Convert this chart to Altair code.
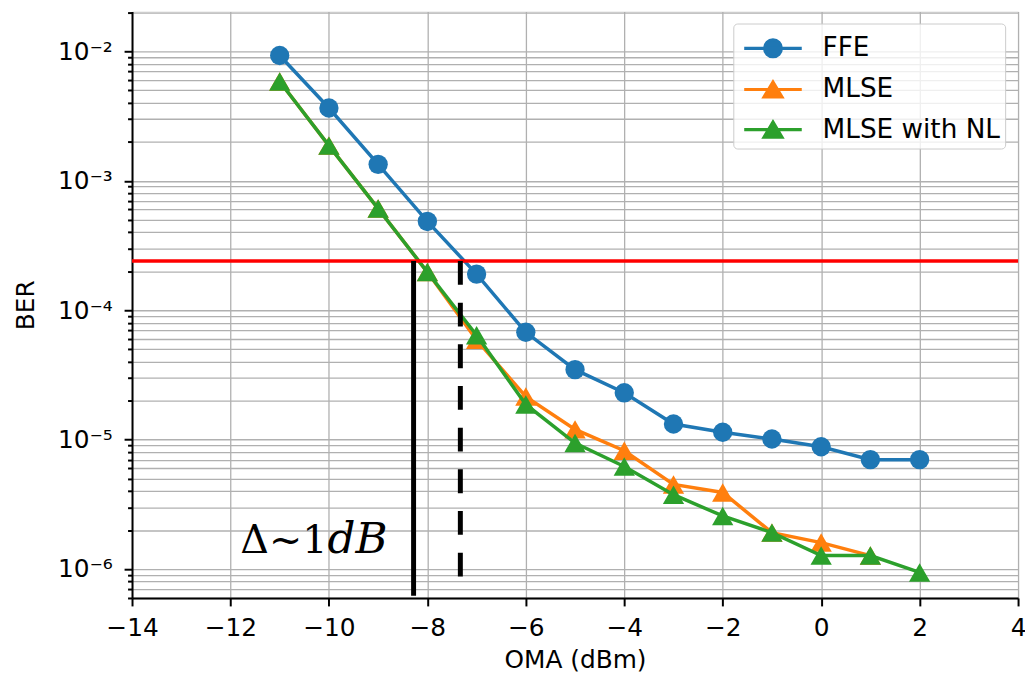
import altair as alt
import pandas as pd

series_names = ["FFE", "MLSE", "MLSE with NL"]
series_colors = ["#1f77b4", "#ff7f0e", "#2ca02c"]

oma_ffe = [-11, -10, -9, -8, -7, -6, -5, -4, -3, -2, -1, 0, 1, 2]
ber_ffe = [9.3e-3, 3.65e-3, 1.34e-3, 4.85e-4, 1.9e-4, 6.75e-5, 3.47e-5,
           2.3e-5, 1.32e-5, 1.14e-5, 1.01e-5, 8.8e-6, 7.0e-6, 7.0e-6]

oma_mlse = [-11, -10, -9, -8, -7, -6, -5, -4, -3, -2, -1, 0, 1]
ber_mlse = [5.85e-3, 1.87e-3, 6.1e-4, 1.97e-4, 5.9e-5, 2.15e-5, 1.2e-5,
            8.2e-6, 4.5e-6, 3.9e-6, 1.91e-6, 1.6e-6, 1.27e-6]

oma_nl = [-11, -10, -9, -8, -7, -6, -5, -4, -3, -2, -1, 0, 1, 2]
ber_nl = [5.85e-3, 1.87e-3, 6.1e-4, 1.97e-4, 6.4e-5, 1.87e-5, 9.4e-6,
          6.2e-6, 3.75e-6, 2.57e-6, 1.91e-6, 1.27e-6, 1.27e-6, 9.4e-7]

x_tick_values = [-14, -12, -10, -8, -6, -4, -2, 0, 2, 4]
x_domain = [-14, 4]
y_domain = [5.97e-7, 2.03e-2]

fec_threshold = [2.4e-4]
solid_x = [-8.28]
solid_y_end = [6.2e-7]
dashed_x = [-7.33]
dashed_y_end = [8.2e-7]
note_main = "Δ~1"
note_unit = "dB"
note_main_x = [-11.8]
note_unit_x = [-10.03]
note_y = [1.32e-6]

# log grid / tick values
y_tick_values = []
for e in range(-7, -1):
    for m in range(1, 10):
        v = float(f"{m}e{e}")
        if y_domain[0] <= v <= y_domain[1]:
            y_tick_values.append(v)

rows = []
for name, xs, ys in zip(series_names, [oma_ffe, oma_mlse, oma_nl], [ber_ffe, ber_mlse, ber_nl]):
    for xv, yv in zip(xs, ys):
        rows.append({"series": name, "oma": xv, "ber": yv})
df = pd.DataFrame(rows)

FONT = "DejaVu Sans"
is_decade = "abs(log(datum.value)/LN10 - round(log(datum.value)/LN10)) < 1e-6"

x_scale = alt.Scale(domain=x_domain, nice=False, zero=False)
y_scale = alt.Scale(type="log", domain=y_domain, nice=False)
color_scale = alt.Scale(domain=series_names, range=series_colors)

x_axis = alt.Axis(
    values=x_tick_values, format="d", title="OMA (dBm)",
    labelFont=FONT, labelFontSize=25, labelColor="black", labelPadding=10,
    titleFont=FONT, titleFontSize=25, titleFontWeight="normal", titleColor="black",
    titleY=70, titleBaseline="alphabetic",
    tickColor="black", tickWidth=2, tickSize=8,
    domainColor="black", domainWidth=2,
    grid=True, gridColor="#b0b0b0", gridWidth=1.3,
    labelFlush=False, labelOverlap=False,
)
y_axis = alt.Axis(
    values=y_tick_values, title="BER",
    labelExpr=f"{is_decade} ? '10' + ['⁻⁷','⁻⁶','⁻⁵','⁻⁴','⁻³','⁻²','⁻¹'][round(log(datum.value)/LN10)+7] : ''",
    labelFont=FONT, labelFontSize=25, labelColor="black", labelPadding=12,
    titleFont=FONT, titleFontSize=25, titleFontWeight="normal", titleColor="black",
    titleX=-107, titleBaseline="middle",
    tickColor="black", tickWidth=2,
    tickSize={"condition": {"test": is_decade, "value": 8}, "value": 4.5},
    domainColor="black", domainWidth=2,
    grid=True, gridColor="#b0b0b0", gridWidth=1.3,
    labelFlush=False, labelOverlap=False,
)

X = alt.X("oma:Q", scale=x_scale, axis=x_axis)
Y = alt.Y("ber:Q", scale=y_scale, axis=y_axis)

legend_paths = [
    "M-1.611,0L1.611,0M0.472,0A0.472,0.472,0,1,1,-0.472,0A0.472,0.472,0,1,1,0.472,0Z",
    "M-1.611,0L1.611,0M0,-0.42L0.5,0.42L-0.5,0.42Z",
    "M-1.611,0L1.611,0M0,-0.42L0.5,0.42L-0.5,0.42Z",
]
leg = alt.Legend(
    title=None, orient="none", legendX=606, legendY=12,
    symbolSize=1296, symbolStrokeWidth=3.2, symbolOpacity=1,
    labelFont=FONT, labelFontSize=26.5, labelColor="black", labelLimit=400,
    fillColor="rgba(255,255,255,0.8)", strokeColor="#cccccc", cornerRadius=4,
    padding=5, rowPadding=6.5, labelOffset=30, symbolOffset=15,
)
COLOR = alt.Color("series:N", scale=color_scale, legend=leg)

base = alt.Chart(df)

# legend driver layer (draws no marks)
layers = [base.transform_filter("false").mark_point(filled=True, opacity=1).encode(
    x=X, y=Y,
    color=COLOR,
    stroke=alt.Stroke("series:N", scale=color_scale, legend=leg),
    shape=alt.Shape("series:N", scale=alt.Scale(domain=series_names, range=legend_paths), legend=leg),
)]

for name in series_names:
    shape = "circle" if name == "FFE" else "triangle-up"
    size = 380 if name == "FFE" else 460
    sub = base.transform_filter(alt.datum.series == name)
    layers.append(sub.mark_line(strokeWidth=3.5).encode(x=X, y=Y, color=COLOR))
    layers.append(sub.mark_point(shape=shape, size=size, filled=True, opacity=1).encode(
        x=X, y=Y, color=COLOR))

red = alt.Chart(pd.DataFrame({"ber": fec_threshold})).mark_rule(
    color="#ff0000", strokeWidth=3.5).encode(y=Y)
solid = alt.Chart(pd.DataFrame({"oma": solid_x, "ber": fec_threshold, "ber2": solid_y_end})).mark_rule(
    color="black", strokeWidth=5).encode(x=X, y=Y, y2="ber2:Q")
dashed = alt.Chart(pd.DataFrame({"oma": dashed_x, "ber": fec_threshold, "ber2": dashed_y_end})).mark_rule(
    color="black", strokeWidth=5, strokeDash=[24, 18]).encode(x=X, y=Y, y2="ber2:Q")
t1 = alt.Chart(pd.DataFrame({"oma": note_main_x, "ber": note_y, "t": [note_main]})).mark_text(
    font="DejaVu Serif", fontSize=40, align="left", baseline="alphabetic", color="black").encode(
    x=X, y=Y, text="t:N")
t2 = alt.Chart(pd.DataFrame({"oma": note_unit_x, "ber": note_y, "t": [note_unit]})).mark_text(
    font="DejaVu Serif", fontSize=44, fontStyle="italic", align="left", baseline="alphabetic",
    color="black").encode(x=X, y=Y, text="t:N")

chart = alt.layer(*layers, red, solid, dashed, t1, t2).properties(
    width=893, height=591,
    autosize=alt.AutoSizeParams(type="none"),
    padding={"left": 125, "top": 1, "right": 7, "bottom": 76},
).configure_view(stroke="black", strokeWidth=2).configure(background="white")

chart.save("out.html", embed_options={"renderer": "svg", "actions": False})
